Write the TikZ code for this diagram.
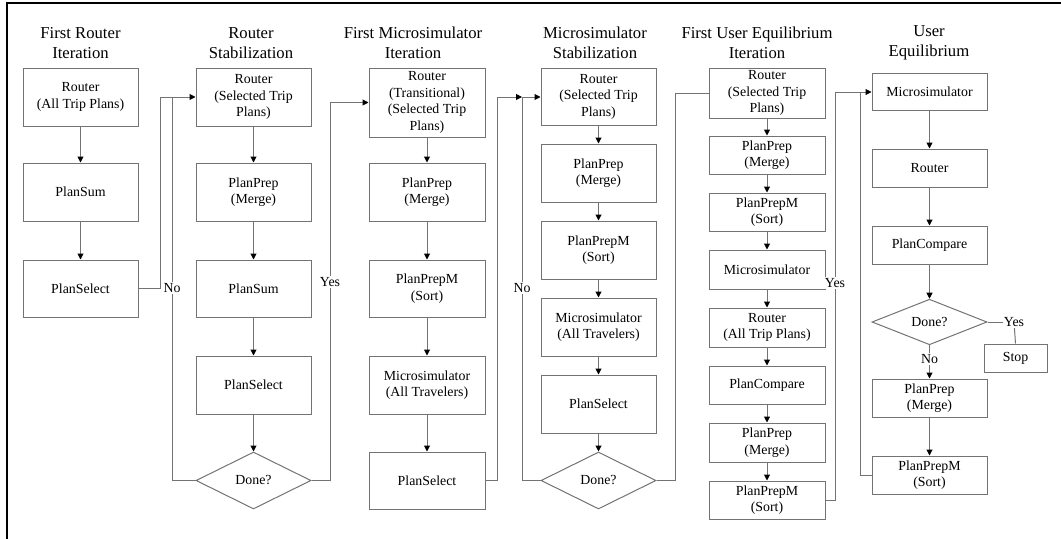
\documentclass[tikz,border=0pt]{standalone}
\usepackage{fontspec}
\setmainfont{Liberation Serif}
\usetikzlibrary{arrows.meta,shapes.geometric}
\definecolor{lc}{RGB}{115,115,115}
\begin{document}
\begin{tikzpicture}[x=0.75pt,y=-0.75pt,
  bf/.style={font=\fontsize{10.4}{12.4}\selectfont},
  box/.style={bf,draw=lc,line width=0.75pt,fill=white,align=center,inner sep=0pt},
  dia/.style={bf,diamond,draw=lc,line width=0.75pt,fill=white,align=center,inner sep=0pt,minimum width=86.25pt},
  ttl/.style={align=center,font=\fontsize{12.5}{15}\selectfont,inner sep=0pt},
  lbl/.style={bf,fill=white,inner sep=1pt},
  con/.style={draw=lc,line width=0.75pt},
  arr/.style={con,-{Triangle[length=4.5pt,width=4.5pt,color=black]}},
  wa/.style={minimum width=86.25pt},
  wb/.style={minimum width=87pt},
  hh/.style={minimum height=#1*0.75pt}
]
\useasboundingbox (0,0) rectangle (1061,539);
\draw[line width=1.5pt] (7,539) -- (7,3) -- (1061,3);

% titles
\node[ttl] (t1) at (80.5,43) {First Router\\Iteration};
\node[ttl] (t2) at (251,43) {Router\\Stabilization};
\node[ttl] (t3) at (413,43) {First Microsimulator\\Iteration};
\node[ttl] (t4) at (595,43) {Microsimulator\\Stabilization};
\node[ttl] (t5) at (757,43) {First User Equilibrium\\Iteration};
\node[ttl] (t6) at (929,43) {User\\Equilibrium};

% column 1
\node[box,wa,hh=58] (r1) at (80.5,97) {Router\\(All Trip Plans)};
\node[box,wa,hh=58] (s1) at (80.5,192) {PlanSum};
\node[box,wa,hh=57] (sel1) at (80.5,288.5) {PlanSelect};

% column 2
\node[box,wa,hh=58] (r2) at (253.5,97) {Router\\(Selected Trip\\Plans)};
\node[box,wa,hh=58] (pp2) at (253.5,192) {PlanPrep\\(Merge)};
\node[box,wa,hh=57] (s2) at (253.5,288.5) {PlanSum};
\node[box,wa,hh=58] (sel2) at (253.5,385) {PlanSelect};
\node[dia,minimum height=42.75pt] (d2) at (253.5,480.5) {Done?};

% column 3
\node[box,wb,hh=69] (r3) at (427,102.5) {Router\\(Transitional)\\(Selected Trip\\Plans)};
\node[box,wb,hh=58] (pp3) at (427,192) {PlanPrep\\(Merge)};
\node[box,wb,hh=57] (ppm3) at (427,288.5) {PlanPrepM\\(Sort)};
\node[box,wb,hh=58] (m3) at (427,385) {Microsimulator\\(All Travelers)};
\node[box,wb,hh=57] (sel3) at (427,480.5) {PlanSelect};

% column 4
\node[box,wa,hh=57] (r4) at (598.5,96.5) {Router\\(Selected Trip\\Plans)};
\node[box,wa,hh=58] (pp4) at (598.5,173) {PlanPrep\\(Merge)};
\node[box,wa,hh=58] (ppm4) at (598.5,250) {PlanPrepM\\(Sort)};
\node[box,wa,hh=58] (m4) at (598.5,327) {Microsimulator\\(All Travelers)};
\node[box,wa,hh=58] (sel4) at (598.5,404) {PlanSelect};
\node[dia,minimum height=42.75pt] (d4) at (598.5,480.5) {Done?};

% column 5
\node[box,wb,hh=50] (r5) at (767,93) {Router\\(Selected Trip\\Plans)};
\node[box,wb,hh=38] (pp5) at (767,155) {PlanPrep\\(Merge)};
\node[box,wb,hh=38] (ppm5) at (767,212) {PlanPrepM\\(Sort)};
\node[box,wb,hh=39] (m5) at (767,269.5) {Microsimulator};
\node[box,wb,hh=39] (ra5) at (767,327.5) {Router\\(All Trip Plans)};
\node[box,wb,hh=38] (pc5) at (767,385) {PlanCompare};
\node[box,wb,hh=39] (pp5b) at (767,442.5) {PlanPrep\\(Merge)};
\node[box,wb,hh=38] (ppm5b) at (767,500) {PlanPrepM\\(Sort)};

% column 6
\node[box,wa,hh=37] (m6) at (929.5,92) {Microsimulator};
\node[box,wa,hh=38] (r6) at (929.5,168) {Router};
\node[box,wa,hh=38] (pc6) at (929.5,245) {PlanCompare};
\node[dia,minimum height=28.5pt] (d6) at (929.5,322) {Done?};
\node[box,minimum width=47.25pt,hh=28] (stop) at (1015.5,358) {Stop};
\node[box,wa,hh=38] (pp6) at (929.5,398) {PlanPrep\\(Merge)};
\node[box,wa,hh=38] (ppm6) at (929.5,475) {PlanPrepM\\(Sort)};

% junction coordinates
\coordinate (j1) at (160,97);
\coordinate (j2) at (172,97);
\coordinate (j3) at (330,102.5);
\coordinate (j4a) at (497,97);
\coordinate (j4) at (522,97);
\coordinate (j5) at (675,93);
\coordinate (j6a) at (835,92);
\coordinate (j6) at (860,92);
\coordinate (y6) at (1014,322);

% connectors column 1
\draw[arr] (r1) -- (s1);
\draw[arr] (s1) -- (sel1);
\draw[arr] (sel1.east) -| (j1) -- (r2.west);
% column 2
\draw[arr] (r2) -- (pp2);
\draw[arr] (pp2) -- (s2);
\draw[arr] (s2) -- (sel2);
\draw[arr] (sel2) -- (d2);
\draw[con] (d2.west) -| (j2);
\draw[arr] (d2.east) -| (j3) -- (r3.west);
% column 3
\draw[arr] (r3) -- (pp3);
\draw[arr] (pp3) -- (ppm3);
\draw[arr] (ppm3) -- (m3);
\draw[arr] (m3) -- (sel3);
\draw[arr] (sel3.east) -| (j4a) -- (j4);
\draw[arr] (j4) -- (r4.west |- j4);
% column 4
\draw[arr] (r4) -- (pp4);
\draw[arr] (pp4) -- (ppm4);
\draw[arr] (ppm4) -- (m4);
\draw[arr] (m4) -- (sel4);
\draw[arr] (sel4) -- (d4);
\draw[con] (d4.west) -| (j4);
\draw[con] (d4.east) -| (j5) -- (r5.west);
% column 5
\draw[arr] (r5) -- (pp5);
\draw[arr] (pp5) -- (ppm5);
\draw[arr] (ppm5) -- (m5);
\draw[arr] (m5) -- (ra5);
\draw[arr] (ra5) -- (pc5);
\draw[arr] (pc5) -- (pp5b);
\draw[arr] (pp5b) -- (ppm5b);
\draw[arr] (ppm5b.east) -| (j6a) -- (m6.west);
% column 6
\draw[con] (ppm6.west) -| (j6);
\draw[arr] (m6) -- (r6);
\draw[arr] (r6) -- (pc6);
\draw[arr] (pc6) -- (d6);
\draw[arr] (d6) -- (pp6);
\draw[arr] (pp6) -- (ppm6);
\draw[con] (d6.east) -- (y6);
\draw[con] (y6) -- (stop.north);

% labels
\node[lbl] (no2) at (172,288) {No};
\node[lbl] (yes2) at (330,282) {Yes};
\node[lbl] (no4) at (522,288) {No};
\node[lbl] (yes5) at (835,283) {Yes};
\node[lbl] (yes6) at (y6) {Yes};
\node[lbl] (no6) at (929.5,359) {No};
\end{tikzpicture}
\end{document}
